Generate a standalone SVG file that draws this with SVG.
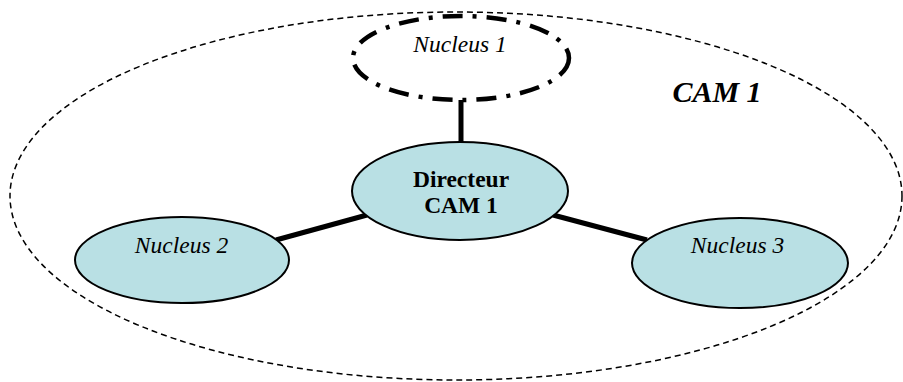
<svg xmlns="http://www.w3.org/2000/svg" width="903" height="382" viewBox="0 0 903 382">
<style>
.node{fill:#b9e0e4;stroke:#000;stroke-width:2}
.it{font-family:"Liberation Serif","Times New Roman",serif;font-style:italic;font-size:23.5px;text-anchor:middle;fill:#000}
.bd{font-family:"Liberation Serif","Times New Roman",serif;font-weight:bold;font-size:23.5px;text-anchor:middle;fill:#000}
.conn line{stroke:#000;stroke-width:5}
</style>
<rect width="903" height="382" fill="#fff"/>
<g id="cam1">
<ellipse cx="456" cy="196" rx="446" ry="184" fill="none" stroke="#000" stroke-width="1.5" stroke-dasharray="6,4"/>
<text x="717" y="102" font-family="'Liberation Serif','Times New Roman',serif" font-style="italic" font-weight="bold" font-size="30" text-anchor="middle">CAM 1</text>
</g>
<g class="conn" id="connectors">
<line x1="461" y1="100" x2="461" y2="143"/>
<line x1="367" y1="215" x2="276" y2="240"/>
<line x1="553" y1="215" x2="647" y2="240"/>
</g>
<g id="nucleus1">
<ellipse cx="461" cy="58" rx="108" ry="42" fill="#fff" stroke="#000" stroke-width="4.5" stroke-dasharray="20,10,4,10"/>
<text class="it" x="460" y="52">Nucleus 1</text>
</g>
<g id="directeur">
<ellipse class="node" cx="460" cy="191" rx="108" ry="49"/>
<text class="bd" x="461" y="187">Directeur</text>
<text class="bd" x="461" y="213">CAM 1</text>
</g>
<g id="nucleus2">
<ellipse class="node" cx="182" cy="260" rx="107" ry="43"/>
<text class="it" x="181.5" y="253">Nucleus 2</text>
</g>
<g id="nucleus3">
<ellipse class="node" cx="740" cy="263" rx="108" ry="45"/>
<text class="it" x="737.5" y="253">Nucleus 3</text>
</g>
</svg>
